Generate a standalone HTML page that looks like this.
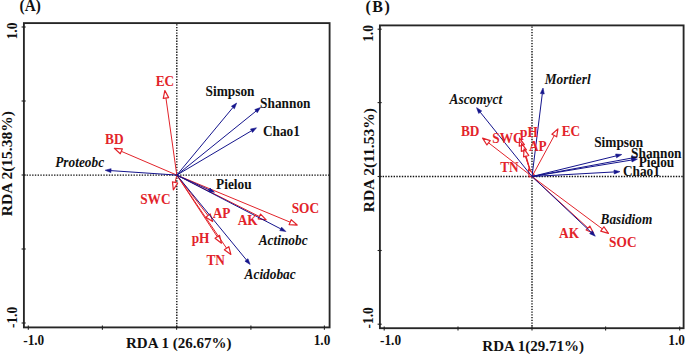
<!DOCTYPE html>
<html><head><meta charset="utf-8"><style>
html,body{margin:0;padding:0;background:#fff;width:685px;height:354px;overflow:hidden}
svg{display:block}
text{font-family:"Liberation Serif", serif;font-weight:bold}
</style></head><body>
<svg width="685" height="354" viewBox="0 0 685 354">
<rect width="685" height="354" fill="#fff"/>
<line x1="176.8" y1="23.1" x2="176.8" y2="327.4" stroke="#111" stroke-width="1.4" stroke-dasharray="1.4 1.34" stroke-dashoffset="1.68"/><line x1="23.9" y1="175.1" x2="329.6" y2="175.1" stroke="#111" stroke-width="1.4" stroke-dasharray="1.4 1.34"/><rect x="23.9" y="23.1" width="305.70000000000005" height="304.29999999999995" fill="none" stroke="#262626" stroke-width="1.85"/><line x1="28.3" y1="325.59999999999997" x2="28.3" y2="329.7" stroke="#222" stroke-width="1.1"/><line x1="102.4" y1="325.59999999999997" x2="102.4" y2="329.7" stroke="#222" stroke-width="1.1"/><line x1="176.6" y1="325.59999999999997" x2="176.6" y2="329.7" stroke="#222" stroke-width="1.1"/><line x1="250.9" y1="325.59999999999997" x2="250.9" y2="329.7" stroke="#222" stroke-width="1.1"/><line x1="324.4" y1="325.59999999999997" x2="324.4" y2="329.7" stroke="#222" stroke-width="1.1"/><line x1="25.7" y1="27" x2="21.599999999999998" y2="27" stroke="#222" stroke-width="1.1"/><line x1="25.7" y1="101" x2="21.599999999999998" y2="101" stroke="#222" stroke-width="1.1"/><line x1="25.7" y1="175" x2="21.599999999999998" y2="175" stroke="#222" stroke-width="1.1"/><line x1="25.7" y1="249" x2="21.599999999999998" y2="249" stroke="#222" stroke-width="1.1"/><line x1="25.7" y1="323" x2="21.599999999999998" y2="323" stroke="#222" stroke-width="1.1"/>
<line x1="532.0" y1="25.4" x2="532.0" y2="328.2" stroke="#111" stroke-width="1.4" stroke-dasharray="1.4 1.34" stroke-dashoffset="1.68"/><line x1="379.9" y1="176.5" x2="683.6" y2="176.5" stroke="#111" stroke-width="1.4" stroke-dasharray="1.4 1.34"/><rect x="379.9" y="25.4" width="303.70000000000005" height="302.8" fill="none" stroke="#262626" stroke-width="1.85"/><line x1="384.2" y1="326.4" x2="384.2" y2="330.5" stroke="#222" stroke-width="1.1"/><line x1="458" y1="326.4" x2="458" y2="330.5" stroke="#222" stroke-width="1.1"/><line x1="532" y1="326.4" x2="532" y2="330.5" stroke="#222" stroke-width="1.1"/><line x1="605.6" y1="326.4" x2="605.6" y2="330.5" stroke="#222" stroke-width="1.1"/><line x1="679.7" y1="326.4" x2="679.7" y2="330.5" stroke="#222" stroke-width="1.1"/><line x1="381.7" y1="29.2" x2="377.59999999999997" y2="29.2" stroke="#222" stroke-width="1.1"/><line x1="381.7" y1="102.6" x2="377.59999999999997" y2="102.6" stroke="#222" stroke-width="1.1"/><line x1="381.7" y1="176.5" x2="377.59999999999997" y2="176.5" stroke="#222" stroke-width="1.1"/><line x1="381.7" y1="250.5" x2="377.59999999999997" y2="250.5" stroke="#222" stroke-width="1.1"/><line x1="381.7" y1="324.2" x2="377.59999999999997" y2="324.2" stroke="#222" stroke-width="1.1"/>
<line x1="176.8" y1="175.1" x2="165.94" y2="98.02" stroke="#e2232a" stroke-width="1.0"/><polygon points="164.88,90.49 168.62,97.64 163.27,98.40" fill="#fff" stroke="#e2232a" stroke-width="1.2" stroke-linejoin="round"/>
<line x1="176.8" y1="175.1" x2="121.34" y2="151.33" stroke="#e2232a" stroke-width="1.0"/><polygon points="114.35,148.34 122.40,148.85 120.27,153.81" fill="#fff" stroke="#e2232a" stroke-width="1.2" stroke-linejoin="round"/>
<line x1="176.8" y1="175.1" x2="175.08" y2="182.42" stroke="#e2232a" stroke-width="1.0"/><polygon points="173.34,189.82 172.45,181.80 177.71,183.04" fill="#fff" stroke="#e2232a" stroke-width="1.2" stroke-linejoin="round"/>
<line x1="176.8" y1="175.1" x2="207.99" y2="215.51" stroke="#e2232a" stroke-width="1.0"/><polygon points="212.63,221.53 205.85,217.16 210.13,213.86" fill="#fff" stroke="#e2232a" stroke-width="1.2" stroke-linejoin="round"/>
<line x1="176.8" y1="175.1" x2="259.37" y2="216.52" stroke="#e2232a" stroke-width="1.0"/><polygon points="266.16,219.93 258.16,218.94 260.58,214.11" fill="#fff" stroke="#e2232a" stroke-width="1.2" stroke-linejoin="round"/>
<line x1="176.8" y1="175.1" x2="290.13" y2="222.16" stroke="#e2232a" stroke-width="1.0"/><polygon points="297.15,225.07 289.09,224.65 291.16,219.66" fill="#fff" stroke="#e2232a" stroke-width="1.2" stroke-linejoin="round"/>
<line x1="176.8" y1="175.1" x2="217.30" y2="236.84" stroke="#e2232a" stroke-width="1.0"/><polygon points="221.47,243.20 215.04,238.32 219.56,235.36" fill="#fff" stroke="#e2232a" stroke-width="1.2" stroke-linejoin="round"/>
<line x1="176.8" y1="175.1" x2="226.59" y2="248.22" stroke="#e2232a" stroke-width="1.0"/><polygon points="230.86,254.50 224.35,249.74 228.82,246.70" fill="#fff" stroke="#e2232a" stroke-width="1.2" stroke-linejoin="round"/>
<line x1="176.8" y1="175.1" x2="232.91" y2="107.52" stroke="#14148c" stroke-width="1.0"/><polygon points="236.62,103.06 234.41,108.77 231.41,106.28" fill="#14148c" stroke="#14148c" stroke-width="0.6" stroke-linejoin="round"/>
<line x1="176.8" y1="175.1" x2="256.02" y2="111.12" stroke="#14148c" stroke-width="1.0"/><polygon points="260.53,107.48 257.25,112.64 254.80,109.60" fill="#14148c" stroke="#14148c" stroke-width="0.6" stroke-linejoin="round"/>
<line x1="176.8" y1="175.1" x2="251.50" y2="130.77" stroke="#14148c" stroke-width="1.0"/><polygon points="256.48,127.81 252.49,132.44 250.50,129.09" fill="#14148c" stroke="#14148c" stroke-width="0.6" stroke-linejoin="round"/>
<line x1="176.8" y1="175.1" x2="110.99" y2="170.63" stroke="#14148c" stroke-width="1.0"/><polygon points="105.20,170.24 111.12,168.69 110.85,172.58" fill="#14148c" stroke="#14148c" stroke-width="0.6" stroke-linejoin="round"/>
<line x1="176.8" y1="175.1" x2="209.18" y2="189.85" stroke="#14148c" stroke-width="1.0"/><polygon points="214.45,192.25 208.37,191.62 209.98,188.07" fill="#14148c" stroke="#14148c" stroke-width="0.6" stroke-linejoin="round"/>
<line x1="176.8" y1="175.1" x2="280.72" y2="228.86" stroke="#14148c" stroke-width="1.0"/><polygon points="285.87,231.52 279.82,230.59 281.61,227.13" fill="#14148c" stroke="#14148c" stroke-width="0.6" stroke-linejoin="round"/>
<line x1="176.8" y1="175.1" x2="246.44" y2="259.95" stroke="#14148c" stroke-width="1.0"/><polygon points="250.12,264.44 244.93,261.19 247.95,258.72" fill="#14148c" stroke="#14148c" stroke-width="0.6" stroke-linejoin="round"/>
<line x1="532.0" y1="176.5" x2="488.58" y2="142.83" stroke="#e2232a" stroke-width="1.0"/><polygon points="482.57,138.17 490.23,140.69 486.92,144.96" fill="#fff" stroke="#e2232a" stroke-width="1.2" stroke-linejoin="round"/>
<line x1="532.0" y1="176.5" x2="521.84" y2="145.40" stroke="#e2232a" stroke-width="1.0"/><polygon points="519.49,138.17 524.41,144.56 519.28,146.23" fill="#fff" stroke="#e2232a" stroke-width="1.2" stroke-linejoin="round"/>
<line x1="532.0" y1="176.5" x2="523.86" y2="150.62" stroke="#e2232a" stroke-width="1.0"/><polygon points="521.58,143.37 526.44,149.81 521.28,151.43" fill="#fff" stroke="#e2232a" stroke-width="1.2" stroke-linejoin="round"/>
<line x1="532.0" y1="176.5" x2="526.16" y2="156.18" stroke="#e2232a" stroke-width="1.0"/><polygon points="524.07,148.88 528.76,155.44 523.57,156.93" fill="#fff" stroke="#e2232a" stroke-width="1.2" stroke-linejoin="round"/>
<line x1="532.0" y1="176.5" x2="531.68" y2="175.82" stroke="#e2232a" stroke-width="1.0"/><polygon points="528.45,168.94 534.13,174.68 529.24,176.97" fill="#fff" stroke="#e2232a" stroke-width="1.2" stroke-linejoin="round"/>
<line x1="532.0" y1="176.5" x2="554.28" y2="135.50" stroke="#e2232a" stroke-width="1.0"/><polygon points="557.91,128.83 556.66,136.79 551.91,134.21" fill="#fff" stroke="#e2232a" stroke-width="1.2" stroke-linejoin="round"/>
<line x1="532.0" y1="176.5" x2="587.97" y2="228.04" stroke="#e2232a" stroke-width="1.0"/><polygon points="593.56,233.19 586.14,230.03 589.80,226.06" fill="#fff" stroke="#e2232a" stroke-width="1.2" stroke-linejoin="round"/>
<line x1="532.0" y1="176.5" x2="602.32" y2="228.90" stroke="#e2232a" stroke-width="1.0"/><polygon points="608.42,233.44 600.71,231.07 603.94,226.74" fill="#fff" stroke="#e2232a" stroke-width="1.2" stroke-linejoin="round"/>
<line x1="532.0" y1="176.5" x2="542.31" y2="93.75" stroke="#14148c" stroke-width="1.0"/><polygon points="543.03,88.00 544.24,93.99 540.37,93.51" fill="#14148c" stroke="#14148c" stroke-width="0.6" stroke-linejoin="round"/>
<line x1="532.0" y1="176.5" x2="480.21" y2="112.18" stroke="#14148c" stroke-width="1.0"/><polygon points="476.58,107.67 481.73,110.96 478.69,113.41" fill="#14148c" stroke="#14148c" stroke-width="0.6" stroke-linejoin="round"/>
<line x1="532.0" y1="176.5" x2="616.08" y2="155.92" stroke="#14148c" stroke-width="1.0"/><polygon points="621.72,154.54 616.55,157.82 615.62,154.03" fill="#14148c" stroke="#14148c" stroke-width="0.6" stroke-linejoin="round"/>
<line x1="532.0" y1="176.5" x2="631.71" y2="158.06" stroke="#14148c" stroke-width="1.0"/><polygon points="637.41,157.01 632.06,159.98 631.35,156.15" fill="#14148c" stroke="#14148c" stroke-width="0.6" stroke-linejoin="round"/>
<line x1="532.0" y1="176.5" x2="631.69" y2="160.04" stroke="#14148c" stroke-width="1.0"/><polygon points="637.41,159.10 632.00,161.97 631.37,158.12" fill="#14148c" stroke="#14148c" stroke-width="0.6" stroke-linejoin="round"/>
<line x1="532.0" y1="176.5" x2="614.11" y2="171.95" stroke="#14148c" stroke-width="1.0"/><polygon points="619.90,171.63 614.22,173.90 614.00,170.01" fill="#14148c" stroke="#14148c" stroke-width="0.6" stroke-linejoin="round"/>
<line x1="532.0" y1="176.5" x2="591.04" y2="232.21" stroke="#14148c" stroke-width="1.0"/><polygon points="595.26,236.19 589.71,233.63 592.38,230.79" fill="#14148c" stroke="#14148c" stroke-width="0.6" stroke-linejoin="round"/>
<text transform="translate(19.599999999999998,11) scale(1,1.05)" font-size="15.3" fill="#111">(A)</text>
<text transform="translate(365.5,11.8) scale(1,1.0)" font-size="16" letter-spacing="1.5" fill="#111">(B)</text>
<text transform="translate(155.7,86) scale(1,1.09)" font-size="13.33" fill="#e2232a">EC</text>
<text transform="translate(105.0,143.5) scale(1,1.09)" font-size="13.33" fill="#e2232a">BD</text>
<text transform="translate(140.2,204) scale(1,1.09)" font-size="13.33" fill="#e2232a">SWC</text>
<text transform="translate(212.7,218) scale(1,1.09)" font-size="13.33" fill="#e2232a">AP</text>
<text transform="translate(237.7,225) scale(1,1.09)" font-size="13.33" fill="#e2232a">AK</text>
<text transform="translate(291.7,213) scale(1,1.09)" font-size="13.33" fill="#e2232a">SOC</text>
<text transform="translate(191.7,243) scale(1,1.09)" font-size="13.33" fill="#e2232a">pH</text>
<text transform="translate(206.39999999999998,264.5) scale(1,1.09)" font-size="13.33" fill="#e2232a">TN</text>
<text transform="translate(205.6,96.4) scale(1,1.025)" font-size="13.33" fill="#111">Simpson</text>
<text transform="translate(260.09999999999997,108) scale(1,1.025)" font-size="13.33" fill="#111">Shannon</text>
<text transform="translate(262.9,136.4) scale(1,1.025)" font-size="13.33" fill="#111">Chao1</text>
<text transform="translate(55.2,166.5) scale(1,1.09)" font-size="13.33" font-style="italic" fill="#111">Proteobc</text>
<text transform="translate(216.1,188.5) scale(1,1.025)" font-size="13.33" fill="#111">Pielou</text>
<text transform="translate(258.7,244.8) scale(1,1.09)" font-size="13.33" font-style="italic" fill="#111">Actinobc</text>
<text transform="translate(244.6,278.6) scale(1,1.09)" font-size="13.33" font-style="italic" fill="#111">Acidobac</text>
<text transform="translate(460.9,136) scale(1,1.09)" font-size="13.33" fill="#e2232a">BD</text>
<text transform="translate(492.3,142.5) scale(1,1.09)" font-size="13.33" fill="#e2232a">SWC</text>
<text transform="translate(520.0,137.4) scale(1,1.09)" font-size="13.33" fill="#e2232a">pH</text>
<text transform="translate(528.9000000000001,151.3) scale(1,1.09)" font-size="13.33" fill="#e2232a">AP</text>
<text transform="translate(500.2,171.5) scale(1,1.09)" font-size="13.33" fill="#e2232a">TN</text>
<text transform="translate(561.7,136) scale(1,1.09)" font-size="13.33" fill="#e2232a">EC</text>
<text transform="translate(559.1,237.8) scale(1,1.09)" font-size="13.33" fill="#e2232a">AK</text>
<text transform="translate(609.1,247.1) scale(1,1.09)" font-size="13.33" fill="#e2232a">SOC</text>
<text transform="translate(544.7,83.5) scale(1,1.09)" font-size="13.33" font-style="italic" fill="#111">Mortierl</text>
<text transform="translate(449.59999999999997,104) scale(1,1.09)" font-size="13.33" font-style="italic" fill="#111">Ascomyct</text>
<text transform="translate(594.2,147.1) scale(1,1.025)" font-size="13.33" fill="#111">Simpson</text>
<text transform="translate(631.1,157.5) scale(1,1.025)" font-size="13.33" fill="#111">Shannon</text>
<text transform="translate(638.7,166.8) scale(1,1.025)" font-size="13.33" fill="#111">Pielou</text>
<text transform="translate(622.9000000000001,175.6) scale(1,1.025)" font-size="13.33" fill="#111">Chao1</text>
<text transform="translate(600.5,224) scale(1,1.09)" font-size="13.33" font-style="italic" fill="#111">Basidiom</text>
<text transform="translate(23.2,344.6) scale(1,1.05)" font-size="13.3" fill="#111">-1.0</text>
<text transform="translate(313.7,344.6) scale(1,1.05)" font-size="13.3" fill="#111">1.0</text>
<text transform="translate(126.0,347.7) scale(1,1.0)" font-size="15" fill="#111">RDA 1 (26.67%)</text>
<text transform="translate(380.0,345.4) scale(1,1.05)" font-size="13.3" fill="#111">-1.0</text>
<text transform="translate(668.3000000000001,345.4) scale(1,1.05)" font-size="13.3" fill="#111">1.0</text>
<text transform="translate(482.3,351) scale(1,1.0)" font-size="15" fill="#111">RDA 1(29.71%)</text>
<text transform="translate(16.6,39.3) rotate(-90) scale(1,1.08)" font-size="13.3" fill="#111">1.0</text>
<text transform="translate(16.7,328) rotate(-90) scale(1,1.08)" font-size="13.3" fill="#111">-1.0</text>
<text transform="translate(11.8,216.2) rotate(-90) scale(1,1.0)" font-size="15.5" fill="#111">RDA 2(15.38%)</text>
<text transform="translate(372.8,41.8) rotate(-90) scale(1,1.08)" font-size="13.3" fill="#111">1.0</text>
<text transform="translate(372.8,328.4) rotate(-90) scale(1,1.08)" font-size="13.3" fill="#111">-1.0</text>
<text transform="translate(373.6,212.3) rotate(-90) scale(1,1.0)" font-size="15.5" fill="#111">RDA 2(11.53%)</text>
</svg>
</body></html>
